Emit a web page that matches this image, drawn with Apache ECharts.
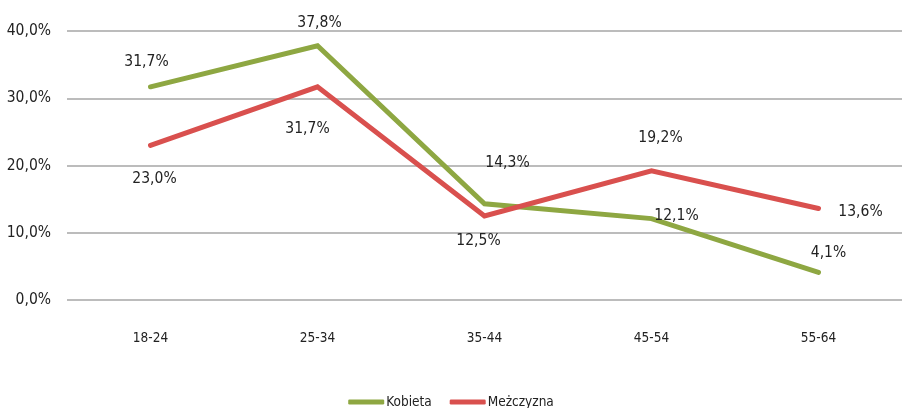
<!DOCTYPE html>
<html>
<head>
<meta charset="utf-8">
<script src="https://cdn.jsdelivr.net/npm/echarts@6/dist/echarts.min.js"></script>
<style>html,body{margin:0;padding:0;background:#fff}#c{width:902px;height:408px}</style>
</head>
<body>
<div id="c"></div>
<script>
const categories = ['18-24', '25-34', '35-44', '45-54', '55-64'];
const kobieta = [31.7, 37.8, 14.3, 12.1, 4.1];
const mezczyzna = [23.0, 31.7, 12.5, 19.2, 13.6];
const seriesNames = ['Kobieta', 'Meżczyzna'];
const yTicks = { min: 0, max: 40, interval: 10 };

// label placement (style only)
const kobietaLabelOffsets = [[-4, -25], [2, -23], [23, -41], [25, -3], [10, -19]];
const mezczyznaLabelOffsets = [[4, 34], [-10, 42], [-6, 25], [9, -33], [42, 3]];

const FONT = "'DejaVu Sans Condensed', 'DejaVu Sans', sans-serif";
const fmt = v => v.toFixed(1).replace('.', ',') + '%';

function buildData(values, offsets) {
  return values.map((v, i) => ({
    value: v,
    label: { position: 'inside', offset: offsets[i] }
  }));
}

const chart = echarts.init(document.getElementById('c'), null, { renderer: 'canvas' });
chart.setOption({
  animation: false,
  textStyle: { fontFamily: FONT },
  grid: { left: 67, top: 31, width: 838, height: 269, containLabel: false },
  legend: {
    left: 'center',
    top: 390,
    itemWidth: 36,
    itemHeight: 5,
    itemGap: 18,
    icon: 'roundRect',
    textStyle: { fontFamily: FONT, fontSize: 13.5, color: '#222', padding: [0, 0, 0, -3] },
    data: seriesNames
  },
  xAxis: {
    type: 'category',
    data: categories,
    boundaryGap: true,
    axisLine: { show: false },
    axisTick: { show: false },
    axisLabel: { fontFamily: FONT, fontSize: 13.5, color: '#222', margin: 31 }
  },
  yAxis: {
    type: 'value',
    min: yTicks.min, max: yTicks.max, interval: yTicks.interval,
    axisLine: { show: false },
    axisTick: { show: false },
    splitLine: { lineStyle: { color: '#a6a6a6', width: 1.5 } },
    axisLabel: { fontFamily: FONT, fontSize: 15.5, color: '#222', margin: 16, formatter: fmt }
  },
  series: [
    {
      name: seriesNames[0],
      type: 'line',
      data: buildData(kobieta, kobietaLabelOffsets),
      symbol: 'circle',
      symbolSize: 1,
      showSymbol: true,
      itemStyle: { color: '#8EA742', borderWidth: 0 },
      color: '#8EA742',
      lineStyle: { width: 5, color: '#8EA742', cap: 'round', join: 'miter' },
      label: { show: true, fontFamily: FONT, fontSize: 15.5, color: '#222', formatter: p => fmt(p.value) },
      z: 3
    },
    {
      name: seriesNames[1],
      type: 'line',
      data: buildData(mezczyzna, mezczyznaLabelOffsets),
      symbol: 'circle',
      symbolSize: 1,
      showSymbol: true,
      itemStyle: { color: '#D9504E', borderWidth: 0 },
      color: '#D9504E',
      lineStyle: { width: 5, color: '#D9504E', cap: 'round', join: 'miter' },
      label: { show: true, fontFamily: FONT, fontSize: 15.5, color: '#222', formatter: p => fmt(p.value) },
      z: 4
    }
  ]
});
</script>
</body>
</html>
